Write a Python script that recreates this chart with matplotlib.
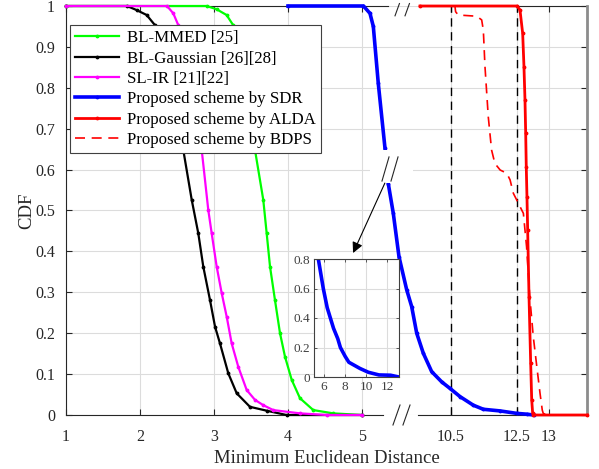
import numpy as np
import matplotlib
matplotlib.use("Agg")
import matplotlib.pyplot as plt
from matplotlib.patches import Rectangle

plt.rcParams['font.family'] = ['Liberation Serif', 'DejaVu Serif']

# CDF curves of the minimum Euclidean distance
mmed_x = [1.0, 2.90, 3.036, 3.17, 3.26, 3.554, 3.666, 3.712, 3.757, 3.824, 3.892,
          3.959, 4.05, 4.162, 4.342, 4.612, 5.0]
mmed_y = [1, 1, 0.992, 0.978, 0.953, 0.648, 0.526, 0.444, 0.363, 0.281, 0.2,
          0.143, 0.086, 0.041, 0.012, 0.004, 0]

gauss_x = [1.0, 1.824, 1.955, 2.09, 2.203, 2.585, 2.699, 2.788, 2.855, 2.946, 3.014,
           3.081, 3.193, 3.307, 3.486, 3.712, 3.98, 5.0]
gauss_y = [1, 1, 0.99, 0.978, 0.953, 0.648, 0.526, 0.444, 0.363, 0.281, 0.216,
           0.175, 0.102, 0.053, 0.02, 0.0105, 0, 0]

ir_x = [1.0, 2.365, 2.45, 2.518, 2.834, 2.923, 2.969, 3.036, 3.104, 3.172, 3.239,
        3.328, 3.442, 3.554, 3.666, 3.801, 4.162, 4.523, 5.0]
ir_y = [1, 1, 0.982, 0.953, 0.648, 0.501, 0.444, 0.363, 0.298, 0.24, 0.175,
        0.118, 0.061, 0.037, 0.024, 0.012, 0.004, 0, 0]

sdr_x = [4.0, 5.02, 5.108, 5.153, 5.22, 5.311, 5.355, 5.423, 5.5, 9.158, 9.309,
         9.461, 9.661, 9.915, 10.218, 10.47, 10.773, 11.176, 11.479, 11.985, 12.491,
         12.652, 12.76]
sdr_y = [1, 1, 0.982, 0.95, 0.811, 0.652, 0.566, 0.493, 0.387, 0.306, 0.265,
         0.2, 0.151, 0.106, 0.081, 0.065, 0.045, 0.024, 0.014, 0.01, 0.004,
         0.002, 0]

alda_x = [9.56, 12.505, 12.547, 12.589, 12.609, 12.625, 12.636, 12.645, 12.656,
          12.667, 12.688, 12.714, 12.73, 12.745, 12.758, 13.6]
alda_y = [1, 1, 0.99, 0.933, 0.852, 0.77, 0.689, 0.607, 0.533,
          0.452, 0.289, 0.126, 0.037, 0.004, 0, 0]

bdps_x = [9.56, 10.62, 10.64, 10.72, 11.28, 11.43, 11.48, 11.53, 11.63, 11.73, 11.83,
          11.99, 12.19, 12.29, 12.39, 12.49, 12.6, 12.65, 12.7, 12.755, 12.81, 12.86,
          12.895, 12.91, 12.97, 13.6]
bdps_y = [1, 1, 0.986, 0.978, 0.975, 0.966, 0.941, 0.852, 0.729, 0.648, 0.615,
          0.599, 0.591, 0.575, 0.542, 0.526, 0.493, 0.411, 0.289, 0.191, 0.118, 0.053,
          0.012, 0.004, 0, 0]

# zoomed view of the SDR tail
zoom_x = [5.46, 5.93, 6.3, 6.9, 7.3, 7.55, 8.0, 8.35, 9.4, 10.2, 11.2, 12.3, 13.1]
zoom_y = [0.8, 0.6, 0.47, 0.33, 0.26, 0.2, 0.14, 0.10, 0.058, 0.032, 0.014, 0.012, 0.0]

labels = ['BL-MMED [25]', 'BL-Gaussian [26][28]', 'SL-IR [21][22]',
          'Proposed scheme by SDR', 'Proposed scheme by ALDA', 'Proposed scheme by BDPS']
xticks = [1, 2, 3, 4, 5, 10.5, 12.5, 13]
xticklabels = ['1', '2', '3', '4', '5', '10.5', '12.5', '13']
yticks = np.round(np.arange(0, 1.01, 0.1), 1)
yticklabels = ['0'] + ['%.1f' % v for v in yticks[1:-1]] + ['1']

# broken x axis: piecewise linear mapping, gap between 5.5 and 9
knot_val = [-1000, 1, 5.5, 9.0, 10.5, 12.5, 13, 1000]
knot_pos = [66 - 1001 * 74, 66, 399, 401.5, 451, 517, 549, 549 + 987 * 64]


def fwd(x):
    return np.interp(x, knot_val, knot_pos)


def inv(u):
    return np.interp(u, knot_pos, knot_val)


fig = plt.figure(figsize=(5.99, 4.69), dpi=100)
ax = fig.add_axes([66 / 599, 54 / 469, 521 / 599, 409 / 469])
ax.set_xscale('function', functions=(fwd, inv))

tc = '#262626'
kw = dict(marker='.', markersize=3.5, clip_on=False, zorder=3)
ax.plot(mmed_x, mmed_y, color='#00ff00', lw=1.6, label=labels[0], **kw)
ax.plot(gauss_x, gauss_y, color='k', lw=1.6, label=labels[1], **kw)
ax.plot(ir_x, ir_y, color='#ff00ff', lw=1.6, label=labels[2], **kw)
ax.plot(sdr_x, sdr_y, color='#0000ff', lw=2.6, label=labels[3], **kw)
ax.plot(alda_x, alda_y, color='#ff0000', lw=2.0, label=labels[4], **kw)
ax.plot(bdps_x, bdps_y, color='#ff0000', lw=1.2, ls=(0, (6, 4)), label=labels[5],
        clip_on=False, zorder=3)

for xv in (10.5, 12.5):
    ax.axvline(xv, color='k', lw=1.0, ls=(0, (6, 4)), zorder=2)

ax.set_xlim(1, 13.594)
ax.set_ylim(0, 1)
ax.set_xticks(xticks)
ax.set_xticklabels(xticklabels)
ax.set_yticks(yticks)
ax.set_yticklabels(yticklabels)
ax.minorticks_off()
ax.grid(True, color='#dcdcdc', lw=0.8, zorder=0)
ax.set_axisbelow(True)
ax.tick_params(direction='in', length=4, width=0.8, color=tc, labelcolor=tc,
               labelsize=11.5, top=True, right=True)
ax.tick_params(axis='x', pad=10)
ax.tick_params(axis='y', pad=8)

ax.set_xlabel('Minimum Euclidean Distance', fontsize=13.5, color=tc, labelpad=4)
ax.set_ylabel('CDF', fontsize=13.5, color=tc, labelpad=0)

# spines with gaps at the break
ax.spines['top'].set_visible(False)
ax.spines['bottom'].set_visible(False)
ax.spines['left'].set_color(tc)
ax.spines['right'].set_color('#8c8c8c')
ax.spines['right'].set_linewidth(2)
T = ax.transAxes
for y0 in (0, 1):
    ax.plot([0, 0.618 if y0 else 0.6084], [y0, y0], color=tc, lw=0.8, transform=T,
            clip_on=False, zorder=1)
    ax.plot([0.6795 if y0 else 0.6756, 1], [y0, y0], color=tc, lw=0.8, transform=T,
            clip_on=False, zorder=1)
for x0 in (0.6315, 0.6507):
    ax.plot([x0, x0 + 0.0085], [0.976, 1.006], color=tc, lw=0.8, transform=T, clip_on=False)
for x0 in (0.6276, 0.6468):
    ax.plot([x0, x0 + 0.0135], [-0.0244, 0.0244], color=tc, lw=0.8, transform=T,
            clip_on=False)

# break on the SDR curve
ax.add_patch(Rectangle((0.5835, 0.567), 0.0825, 0.081, transform=T, facecolor='white',
                       edgecolor='none', zorder=5))
for x0 in (0.6065, 0.6238):
    ax.plot([x0, x0 + 0.0135], [0.572, 0.631], color=tc, lw=0.8, transform=T, zorder=6)
ax.annotate('', xy=(0.551, 0.396), xytext=(0.612, 0.567), xycoords='axes fraction',
            arrowprops=dict(arrowstyle='-|>', color='k', lw=0.8, mutation_scale=16,
                            shrinkA=0, shrinkB=0), zorder=6)

leg = ax.legend(loc='upper left', bbox_to_anchor=(0.0077, 0.9535), borderaxespad=0,
                fontsize=12.2, fancybox=False, framealpha=1, edgecolor='#404040',
                handlelength=2.6, handletextpad=0.45, labelspacing=0.26,
                borderpad=0.3)
leg.get_frame().set_linewidth(0.8)
leg.set_zorder(7)

# inset
axi = fig.add_axes([314 / 599, 92 / 469, 85 / 599, 118 / 469])
axi.plot(zoom_x, zoom_y, color='#0000ff', lw=2.6)
axi.set_xlim(5.05, 13.1)
axi.set_ylim(0, 0.8)
axi.set_xticks([6, 8, 10, 12])
axi.set_yticks([0, 0.2, 0.4, 0.6, 0.8])
axi.set_yticklabels(['0', '0.2', '0.4', '0.6', '0.8'])
axi.grid(True, color='#dcdcdc', lw=0.8)
axi.tick_params(direction='in', length=2.5, width=0.6, color='#404040',
                labelcolor='#404040', labelsize=9.5, top=True, right=True, pad=3)
for s in axi.spines.values():
    s.set_color('#404040')
    s.set_linewidth(0.8)

fig.savefig('out.png', dpi=100)
